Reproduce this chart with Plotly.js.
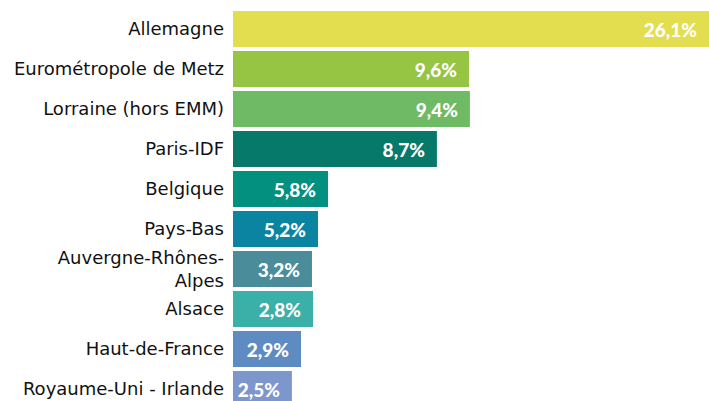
<!DOCTYPE html>
<html>
<head>
<meta charset="utf-8">
<script src="https://cdn.plot.ly/plotly-3.0.1.min.js"></script>
<style>html,body{margin:0;padding:0;background:#fff;}#chart{width:709px;height:401px;}</style>
</head>
<body>
<div id="chart"></div>
<script>
const categories = ["Allemagne","Eurométropole de Metz","Lorraine (hors EMM)","Paris-IDF","Belgique","Pays-Bas","Auvergne-Rhônes-<br>Alpes","Alsace","Haut-de-France","Royaume-Uni - Irlande"];
// bar lengths as drawn (in the same units as the top bar)
const barLength = [26.1, 12.94, 12.99, 11.18, 5.21, 4.66, 4.33, 4.39, 3.73, 3.23];
// shares printed on the bars
const shareLabels = ["26,1%","9,6%","9,4%","8,7%","5,8%","5,2%","3,2%","2,8%","2,9%","2,5%"];
const barColors = ["#e2de50","#96c443","#6fba64","#07796b","#04907f","#0a84a0","#4a8c99","#3bb0a8","#5f8bc3","#7d96cc"];

const trace = {
  type: "bar",
  orientation: "h",
  y: categories,
  x: barLength,
  text: shareLabels.map(s => s + "\u00a0\u00a0"),
  textposition: "inside",
  insidetextanchor: "end",
  textfont: {family: "Lato, 'Open Sans', sans-serif", size: 19, color: "#ffffff", weight: 900},
  marker: {color: barColors, line: {width: 0}},
  width: 0.9,
  hoverinfo: "none",
  cliponaxis: true
};

const layout = {
  width: 709, height: 401,
  margin: {l: 233, r: 0, t: 0, b: 0, pad: 0},
  paper_bgcolor: "#ffffff", plot_bgcolor: "#ffffff",
  showlegend: false,
  xaxis: {range: [0, 26.1], visible: false, fixedrange: true},
  yaxis: {
    type: "category",
    range: [9.3, -0.725],
    showgrid: false, zeroline: false, showline: false,
    ticks: "", ticklabelstandoff: 8,
    tickfont: {family: "'DejaVu Sans', sans-serif", size: 18, color: "#111111"},
    fixedrange: true
  },
  bargap: 0.1,
  uniformtext: {mode: false}
};

Plotly.newPlot("chart", [trace], layout, {displayModeBar: false, staticPlot: true});
</script>
</body>
</html>
